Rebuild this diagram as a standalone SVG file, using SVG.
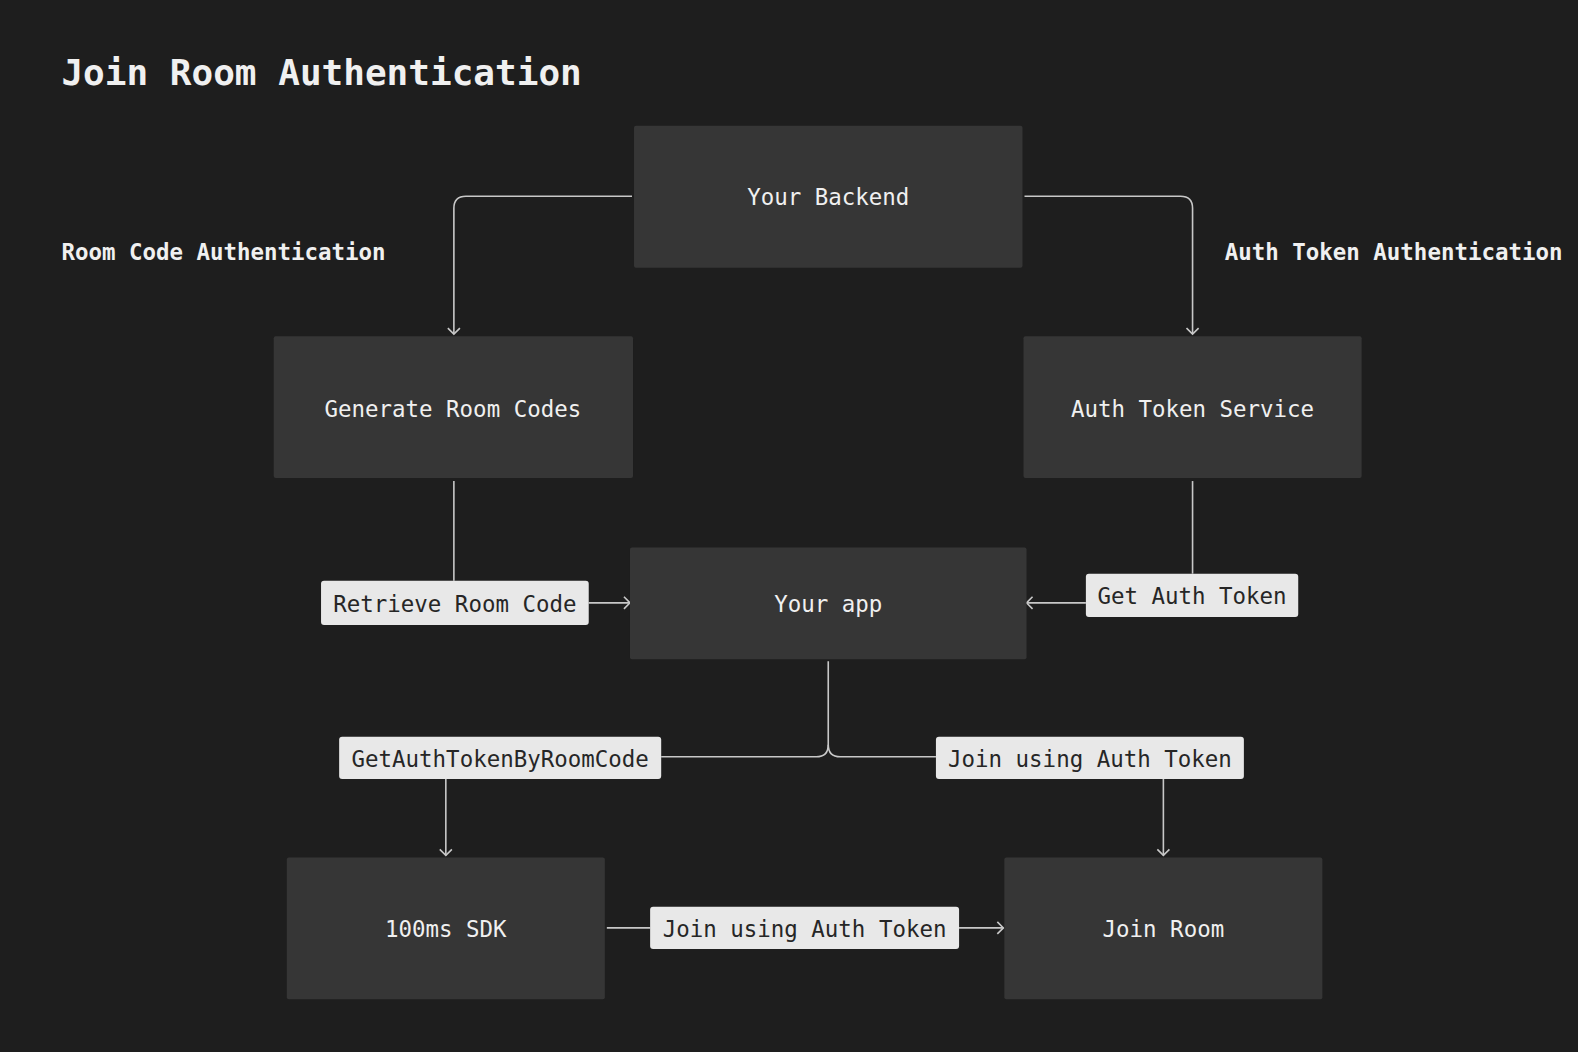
<svg xmlns="http://www.w3.org/2000/svg" width="1578" height="1052" viewBox="0 0 1578 1052">
<style>
.node rect{fill:#363636;}
.nt{font-family:"DejaVu Sans Mono","Liberation Mono",monospace;font-size:22.3px;fill:#f0f0f0;text-anchor:middle;dominant-baseline:central;}
.lb rect{fill:#e8e8e8;}
.lt{font-family:"DejaVu Sans Mono","Liberation Mono",monospace;font-size:22.3px;fill:#262626;text-anchor:middle;dominant-baseline:central;}
.hd{font-family:"DejaVu Sans Mono","Liberation Mono",monospace;font-size:22.3px;fill:#f0f0f0;font-weight:bold;}
.title{font-family:"DejaVu Sans Mono","Liberation Mono",monospace;font-size:35.8px;fill:#f0f0f0;font-weight:bold;}
.c{fill:none;stroke:#c8c8c8;stroke-width:1.6;}
</style>
<defs>
<marker id="ar" markerUnits="userSpaceOnUse" markerWidth="14" markerHeight="14" viewBox="0 0 14 14" refX="12" refY="7" orient="auto">
<path d="M6,1 L12,7 L6,13" fill="none" stroke="#c8c8c8" stroke-width="1.6"/>
</marker>
</defs>
<rect width="1578" height="1052" fill="#1e1e1e"/>
<g transform="scale(1.00638)">
<text class="title" x="61" y="84">Join Room Authentication</text>
<text class="hd" x="61" y="258">Room Code Authentication</text>
<text class="hd" x="1217" y="258">Auth Token Authentication</text>
<g id="connectors">
<path class="c" d="M628,195 H463 Q451,195 451,207 V332" marker-end="url(#ar)"/>
<path class="c" d="M1018,195 H1173 Q1185,195 1185,207 V332" marker-end="url(#ar)"/>
<path class="c" d="M451,478 V577"/>
<path class="c" d="M585,599 H626" marker-end="url(#ar)"/>
<path class="c" d="M1185,478 V570"/>
<path class="c" d="M1079,599 H1020" marker-end="url(#ar)"/>
<path class="c" d="M823,657 V740 Q823,752 811,752 H657"/>
<path class="c" d="M823,740 Q823,752 835,752 H930"/>
<path class="c" d="M443,774 V850" marker-end="url(#ar)"/>
<path class="c" d="M1156,774 V850" marker-end="url(#ar)"/>
<path class="c" d="M603,922 H646"/>
<path class="c" d="M953,922 H997" marker-end="url(#ar)"/>
</g>
<g id="your-backend" class="node"><rect x="630" y="125" width="386" height="141" rx="2"/><text class="nt" x="823" y="196">Your Backend</text></g>
<g id="generate-room-codes" class="node"><rect x="272" y="334" width="357" height="141" rx="2"/><text class="nt" x="450" y="406">Generate Room Codes</text></g>
<g id="auth-token-service" class="node"><rect x="1017" y="334" width="336" height="141" rx="2"/><text class="nt" x="1185" y="406">Auth Token Service</text></g>
<g id="your-app" class="node"><rect x="626" y="544" width="394" height="111" rx="2"/><text class="nt" x="823" y="600">Your app</text></g>
<g id="sdk" class="node"><rect x="285" y="852" width="316" height="141" rx="2"/><text class="nt" x="443" y="923">100ms SDK</text></g>
<g id="join-room" class="node"><rect x="998" y="852" width="316" height="141" rx="2"/><text class="nt" x="1156" y="923">Join Room</text></g>
<g id="lbl-retrieve" class="lb"><rect x="319" y="577" width="266" height="44" rx="3"/><text class="lt" x="452" y="600">Retrieve Room Code</text></g>
<g id="lbl-get-auth" class="lb"><rect x="1079" y="570" width="211" height="43" rx="3"/><text class="lt" x="1184.5" y="592">Get Auth Token</text></g>
<g id="lbl-byroomcode" class="lb"><rect x="337" y="732" width="320" height="42" rx="3"/><text class="lt" x="497" y="754">GetAuthTokenByRoomCode</text></g>
<g id="lbl-join-right" class="lb"><rect x="930" y="732" width="306" height="42" rx="3"/><text class="lt" x="1083" y="754">Join using Auth Token</text></g>
<g id="lbl-join-bottom" class="lb"><rect x="646" y="901" width="307" height="42" rx="3"/><text class="lt" x="799.5" y="923">Join using Auth Token</text></g>
</g>
</svg>
